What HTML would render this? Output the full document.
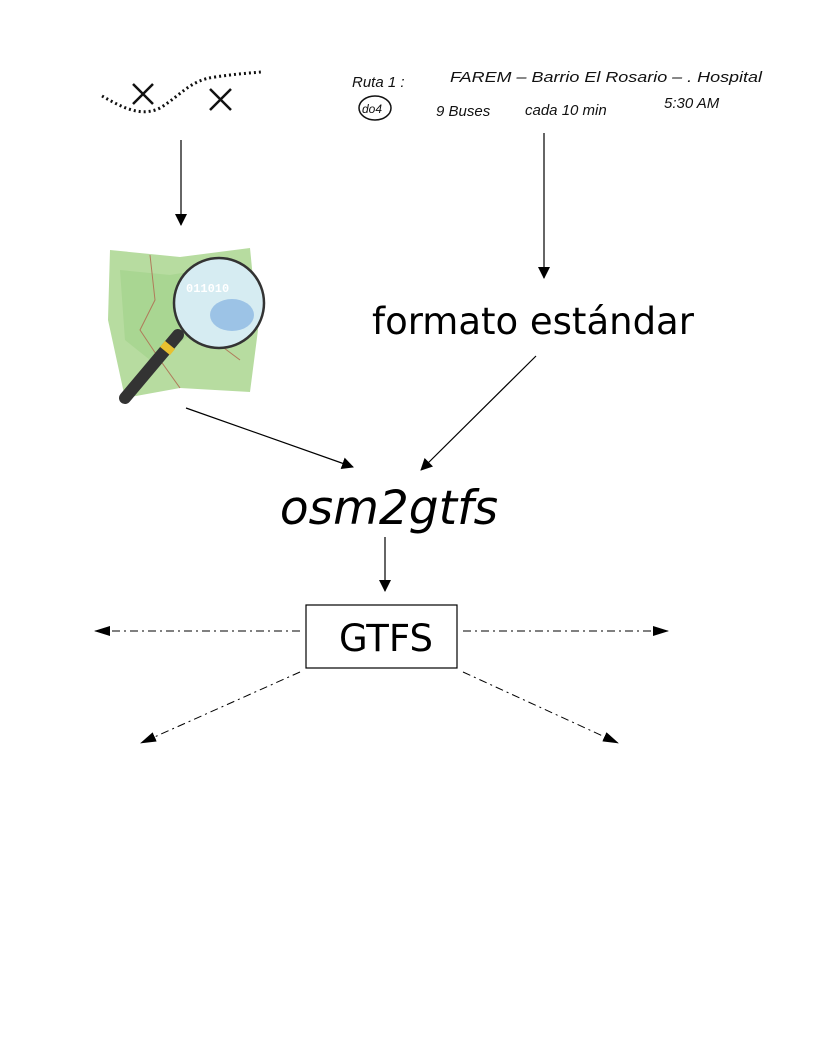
<!DOCTYPE html>
<html><head><meta charset="utf-8"><style>
html,body{margin:0;padding:0;background:#fff;}
svg{display:block;}
</style></head><body>
<svg width="816" height="1056" viewBox="0 0 816 1056" xmlns="http://www.w3.org/2000/svg">
<defs>
<marker id="ah" markerWidth="12" markerHeight="12" refX="11" refY="6" orient="auto" markerUnits="userSpaceOnUse">
<path d="M0,0 L12,6 L0,12 Z" fill="#000"/></marker>
<marker id="ah2" markerWidth="16" markerHeight="10" refX="15" refY="5" orient="auto" markerUnits="userSpaceOnUse">
<path d="M0,0 L16,5 L0,10 Z" fill="#000"/></marker>
</defs>
<path d="M102,96 C120,106 140,118 160,108 C180,96 190,80 215,77 C235,74 250,73 261,72" fill="none" stroke="#111" stroke-width="3" stroke-dasharray="2,3"/>
<path d="M133,84 L153,104 M153,84 L133,104" stroke="#111" stroke-width="2.5"/>
<path d="M210,89 L231,110 M231,89 L210,110" stroke="#111" stroke-width="2.5"/>
<g font-family="Liberation Sans, sans-serif" font-size="15" fill="#111" font-style="italic">
<text x="352" y="87">Ruta 1 :</text>
<text x="450" y="82" textLength="312" lengthAdjust="spacingAndGlyphs">FAREM – Barrio El Rosario – . Hospital</text>
<ellipse cx="375" cy="108" rx="16" ry="12" fill="none" stroke="#111" stroke-width="1.5"/>
<text x="362" y="113" font-size="12">do4</text>
<text x="436" y="116">9 Buses</text>
<text x="525" y="115">cada 10 min</text>
<text x="664" y="108">5:30 AM</text>
</g>
<g>
<path d="M110,250 L180,257 L250,248 L258,330 L250,392 L180,388 L125,398 L108,320 Z" fill="#b7dca0"/>
<path d="M120,270 L170,275 L230,265 L245,300 L200,330 L150,360 L125,340 Z" fill="#a3d38c" opacity="0.7"/>
<path d="M150,255 L155,300 L140,330 L160,360 L180,388 M200,330 L240,360" fill="none" stroke="#b07a5a" stroke-width="1"/>
<line x1="178" y1="335" x2="125" y2="398" stroke="#333" stroke-width="12" stroke-linecap="round"/>
<line x1="170" y1="345" x2="165" y2="351" stroke="#e8c030" stroke-width="13"/>
<circle cx="219" cy="303" r="45" fill="#d6ecf2" stroke="#333" stroke-width="2.5"/>
<ellipse cx="232" cy="315" rx="22" ry="16" fill="#9cc3e6"/>
<text x="186" y="292" font-family="Liberation Mono, monospace" font-size="12" font-weight="bold" fill="#fff">011010</text>
</g>
<line x1="181" y1="140" x2="181" y2="225" stroke="#000" stroke-width="1.2" marker-end="url(#ah)"/>
<line x1="544" y1="133" x2="544" y2="278" stroke="#000" stroke-width="1.2" marker-end="url(#ah)"/>
<text x="533" y="334" text-anchor="middle" font-family="DejaVu Sans, sans-serif" font-size="37" fill="#000">formato estándar</text>
<line x1="536" y1="356" x2="421" y2="470" stroke="#000" stroke-width="1.2" marker-end="url(#ah)"/>
<line x1="186" y1="408" x2="353" y2="467" stroke="#000" stroke-width="1.2" marker-end="url(#ah)"/>
<text x="389" y="524" text-anchor="middle" font-family="DejaVu Sans, sans-serif" font-style="italic" font-size="47" fill="#000">osm2gtfs</text>
<line x1="385" y1="537" x2="385" y2="591" stroke="#000" stroke-width="1.2" marker-end="url(#ah)"/>
<rect x="306" y="605" width="151" height="63" fill="#fff" stroke="#000" stroke-width="1.2"/>
<text x="386" y="651" text-anchor="middle" font-family="DejaVu Sans, sans-serif" font-size="37" fill="#000">GTFS</text>
<g stroke="#000" stroke-width="1" stroke-dasharray="8,4,2,4" fill="none">
<line x1="300" y1="631" x2="95" y2="631" marker-end="url(#ah2)"/>
<line x1="463" y1="631" x2="668" y2="631" marker-end="url(#ah2)"/>
<line x1="300" y1="672" x2="141" y2="743" marker-end="url(#ah2)"/>
<line x1="463" y1="672" x2="618" y2="743" marker-end="url(#ah2)"/>
</g>
</svg>
</body></html>
